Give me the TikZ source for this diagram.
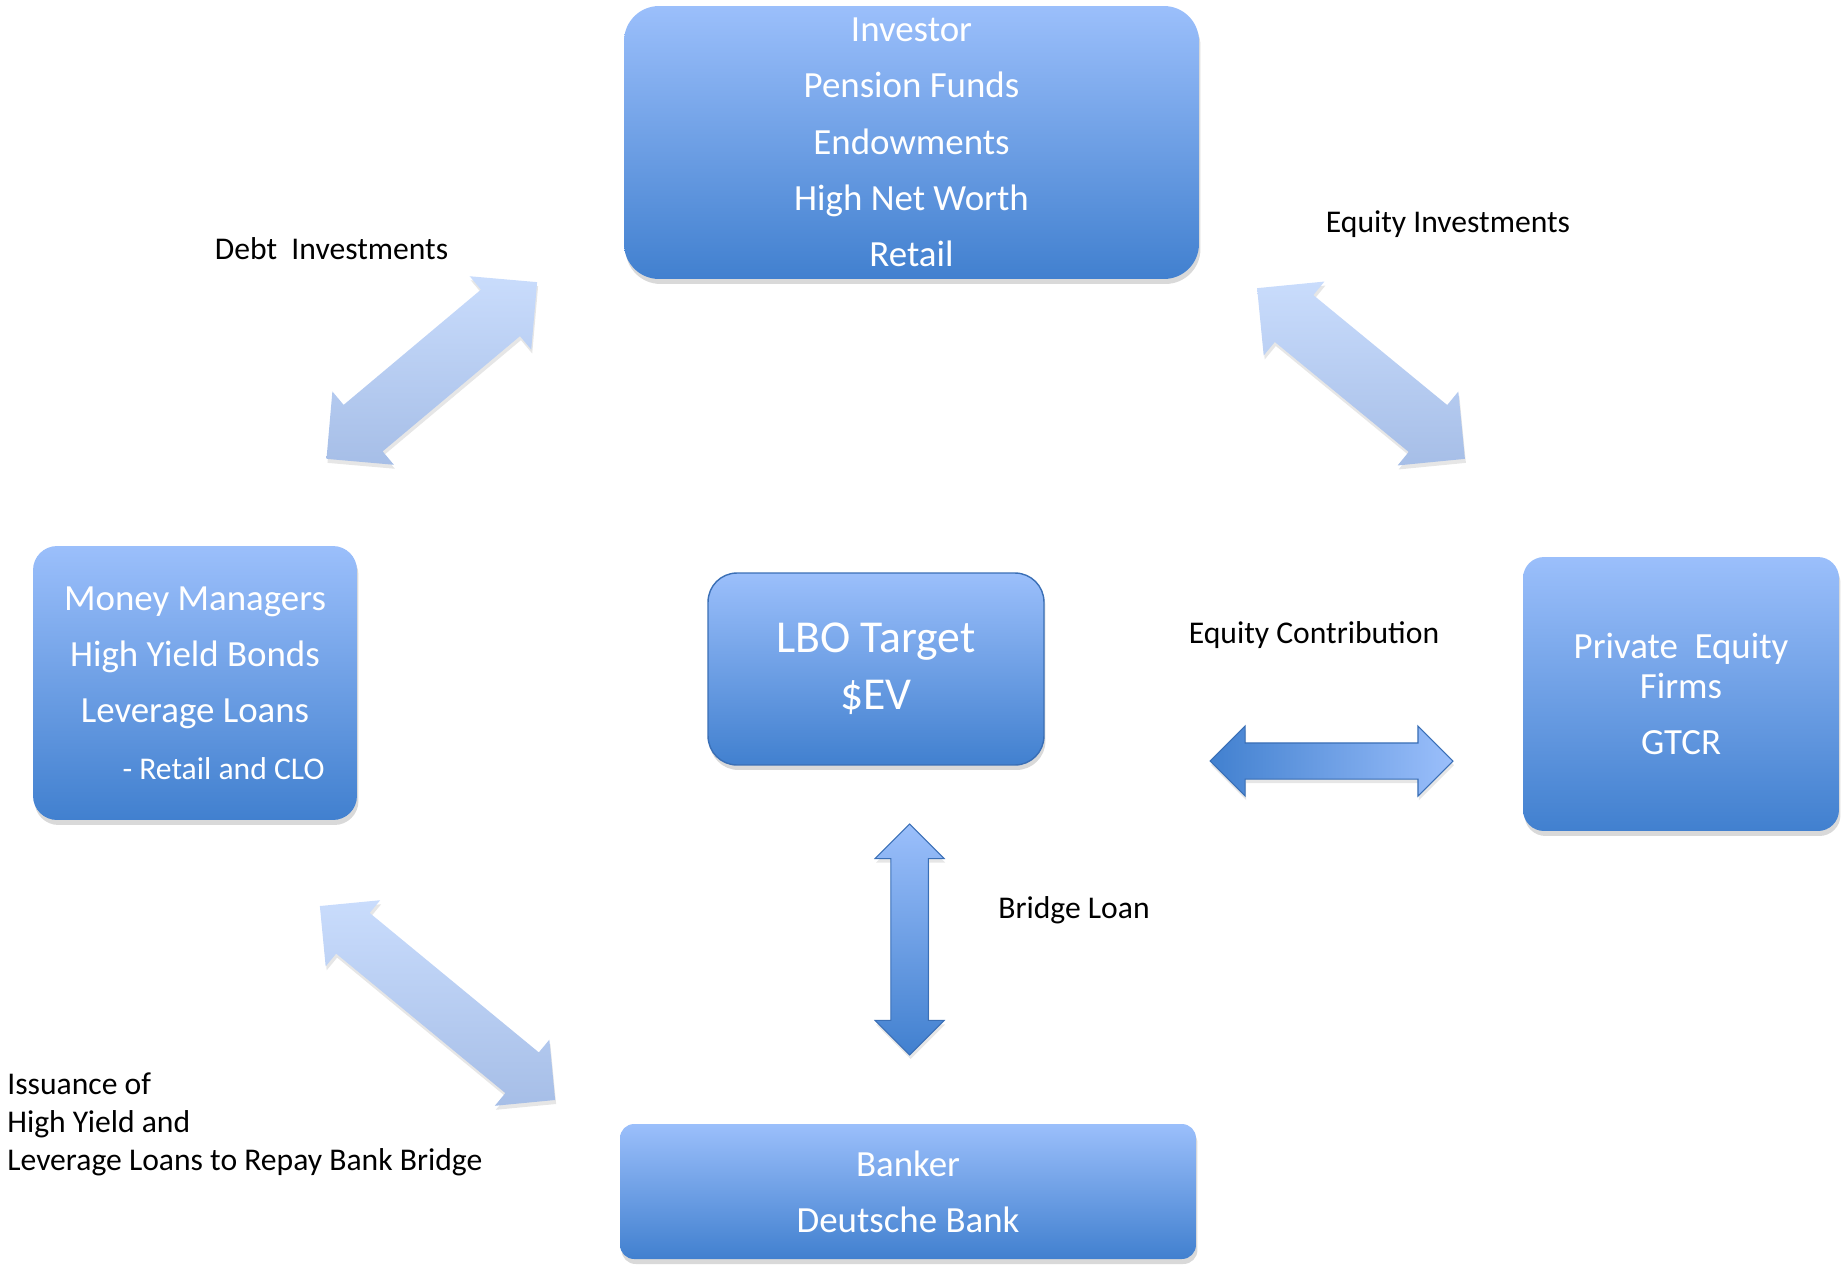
\documentclass[tikz,border=0pt]{standalone}
\usepackage{fontspec}
\setmainfont{Carlito}
\usetikzlibrary{shapes.arrows,shadows}

\definecolor{boxlight}{HTML}{9BBFFB}
\definecolor{boxdark}{HTML}{4180CF}
\definecolor{boxline}{HTML}{3A6FB6}
\definecolor{flowlight}{HTML}{C9DCFC}
\definecolor{flowdark}{HTML}{A6BEE7}

\tikzset{
  party/.style={rectangle, top color=boxlight, bottom color=boxdark, text=white,
    align=center, inner sep=0pt, font=\fontsize{21}{32}\selectfont,
    drop shadow={opacity=0.3, shadow xshift=0.03cm, shadow yshift=-0.1cm}},
  flow/.style={double arrow, double arrow head indent=0pt, inner xsep=0pt,
    top color=flowlight, bottom color=flowdark,
    drop shadow={opacity=0.2, shadow xshift=0.02cm, shadow yshift=-0.08cm}},
  deal/.style={double arrow, double arrow head indent=0pt, inner xsep=0pt,
    left color=boxdark, right color=boxlight, draw=boxline, line width=0.6pt,
    drop shadow={opacity=0.2, shadow xshift=0.02cm, shadow yshift=-0.08cm}},
  caption/.style={font=\fontsize{18}{21.6}\selectfont, inner sep=0pt}
}

\begin{document}
\begin{tikzpicture}[x=0.02cm,y=-0.02cm]
  \useasboundingbox (0,0) rectangle (1845,1264);

  % boxes
  \node[party, minimum width=11.5cm, minimum height=5.46cm, rounded corners=0.7cm]
    (investor) at (911.5,142.5) {Investor\\Pension Funds\\Endowments\\High Net Worth\\Retail};
  \node[party, minimum width=6.48cm, minimum height=5.48cm, rounded corners=0.48cm]
    (money) at (195,683) {Money Managers\\High Yield Bonds\\Leverage Loans\\
    {\fontsize{18}{32}\selectfont\hspace*{1.14cm}- Retail and CLO}};
  \node[party, minimum width=6.72cm, minimum height=3.84cm, rounded corners=0.58cm,
    draw=boxline, line width=0.8pt, font=\fontsize{26}{32.5}\selectfont]
    (target) at (876,669) {LBO Target\\\$EV};
  \node[party, minimum width=6.32cm, minimum height=5.48cm, rounded corners=0.42cm]
    (equity) at (1681,694) {Private\ \ Equity\\[-9pt]Firms\\GTCR};
  \node[party, minimum width=11.52cm, minimum height=2.7cm, rounded corners=0.28cm]
    (banker) at (908,1191.5) {Banker\\Deutsche Bank};

  % arrows
  \node[flow, minimum height=5.5cm, minimum width=1.9cm, inner ysep=0.6cm,
    double arrow head extend=0.35cm, rotate=40] (debtflow) at (431.8,370.5) {};
  \node[flow, minimum height=5.38cm, minimum width=1.9cm, inner ysep=0.6cm,
    double arrow head extend=0.35cm, rotate=-39.4] (eqinvflow) at (1361,373.5) {};
  \node[flow, minimum height=6.1cm, minimum width=1.7cm, inner ysep=0.52cm,
    double arrow head extend=0.33cm, rotate=-39.5] (issueflow) at (437.5,1003) {};
  \node[deal, minimum height=4.86cm, minimum width=1.38cm, inner ysep=0.35cm,
    double arrow head extend=0.34cm] (eqflow) at (1331.5,761) {};
  \node[deal, top color=boxlight, bottom color=boxdark, minimum height=4.62cm,
    minimum width=1.36cm, inner ysep=0.365cm, double arrow head extend=0.315cm,
    rotate=90] (bridgeflow) at (909.6,939.5) {};

  % labels
  \node[caption] (debtlbl) at (331.5,249) {Debt\ \ Investments};
  \node[caption] (eqinvlbl) at (1448,224) {Equity Investments};
  \node[caption] (eqcontlbl) at (1314,635) {Equity Contribution};
  \node[caption] (bridgelbl) at (1074,910) {Bridge Loan};
  \node[caption, align=left, anchor=west] (issuelbl) at (7,1124)
    {Issuance of\\High Yield and\\Leverage Loans to Repay Bank Bridge};
\end{tikzpicture}
\end{document}
